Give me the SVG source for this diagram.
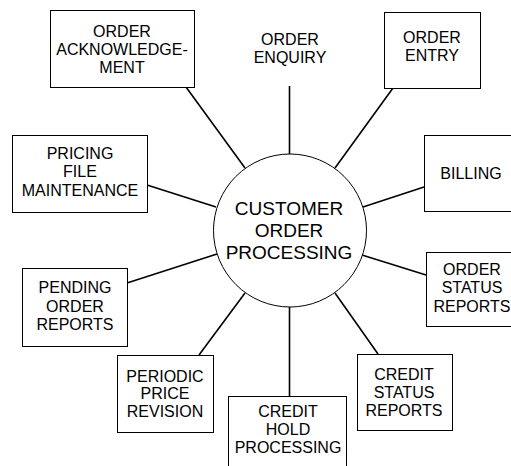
<svg xmlns="http://www.w3.org/2000/svg" width="511" height="466" viewBox="0 0 511 466">
<style>
.box{fill:#fff;stroke:#000;stroke-width:1}
.t{font-family:"Liberation Sans",Arial,sans-serif;font-size:16px;fill:#000;text-anchor:middle}
.c{font-family:"Liberation Sans",Arial,sans-serif;font-size:19px;fill:#000;text-anchor:middle}
.ln{stroke:#000;stroke-width:1.6;fill:none}
</style>
<rect width="511" height="466" fill="#fff"/>
<g id="connectors">
<line class="ln" x1="289.5" y1="86" x2="289.5" y2="155"/>
<line class="ln" x1="186" y1="87" x2="245" y2="168"/>
<line class="ln" x1="147" y1="185" x2="216" y2="207"/>
<line class="ln" x1="393" y1="88" x2="335" y2="168"/>
<line class="ln" x1="424" y1="187" x2="363" y2="207"/>
<line class="ln" x1="362" y1="255" x2="426" y2="275"/>
<line class="ln" x1="335" y1="293" x2="378" y2="354"/>
<line class="ln" x1="289.5" y1="307" x2="289.5" y2="396"/>
<line class="ln" x1="199" y1="355" x2="245" y2="293"/>
<line class="ln" x1="127" y1="283" x2="217" y2="254"/>
</g>
<g id="center">
<circle cx="290" cy="230.5" r="76.5" fill="#fff" stroke="#000" stroke-width="1"/>
<text class="c" x="289" y="215">CUSTOMER</text>
<text class="c" x="289" y="237">ORDER</text>
<text class="c" x="289" y="259">PROCESSING</text>
</g>
<g id="order-enquiry">
<text class="t" x="290" y="45">ORDER</text>
<text class="t" x="290" y="63">ENQUIRY</text>
</g>
<g id="order-ack">
<rect class="box" x="50.5" y="10.5" width="144" height="77"/>
<text class="t" x="122" y="37">ORDER</text>
<text class="t" x="122" y="55">ACKNOWLEDGE-</text>
<text class="t" x="122" y="73">MENT</text>
</g>
<g id="pricing">
<rect class="box" x="12.5" y="135.5" width="135" height="77"/>
<text class="t" x="80" y="159">PRICING</text>
<text class="t" x="80" y="177">FILE</text>
<text class="t" x="80" y="196">MAINTENANCE</text>
</g>
<g id="order-entry">
<rect class="box" x="384.5" y="12.5" width="96" height="76"/>
<text class="t" x="432" y="43">ORDER</text>
<text class="t" x="432" y="61">ENTRY</text>
</g>
<g id="billing">
<rect class="box" x="424.5" y="135.5" width="96" height="76"/>
<text class="t" x="471" y="179">BILLING</text>
</g>
<g id="order-status">
<rect class="box" x="426.5" y="252.5" width="94" height="74"/>
<text class="t" x="472" y="275">ORDER</text>
<text class="t" x="472" y="293">STATUS</text>
<text class="t" x="472" y="312">REPORTS</text>
</g>
<g id="credit-status">
<rect class="box" x="357.5" y="354.5" width="95" height="76"/>
<text class="t" x="404" y="380">CREDIT</text>
<text class="t" x="404" y="398">STATUS</text>
<text class="t" x="404" y="416">REPORTS</text>
</g>
<g id="credit-hold">
<rect class="box" x="228.5" y="396.5" width="118" height="80"/>
<text class="t" x="288" y="417">CREDIT</text>
<text class="t" x="288" y="435">HOLD</text>
<text class="t" x="288" y="453">PROCESSING</text>
</g>
<g id="periodic">
<rect class="box" x="117.5" y="355.5" width="96" height="77"/>
<text class="t" x="165" y="382">PERIODIC</text>
<text class="t" x="165" y="399">PRICE</text>
<text class="t" x="165" y="417">REVISION</text>
</g>
<g id="pending">
<rect class="box" x="22.5" y="268.5" width="105" height="78"/>
<text class="t" x="75" y="293">PENDING</text>
<text class="t" x="75" y="312">ORDER</text>
<text class="t" x="75" y="330">REPORTS</text>
</g>
</svg>
